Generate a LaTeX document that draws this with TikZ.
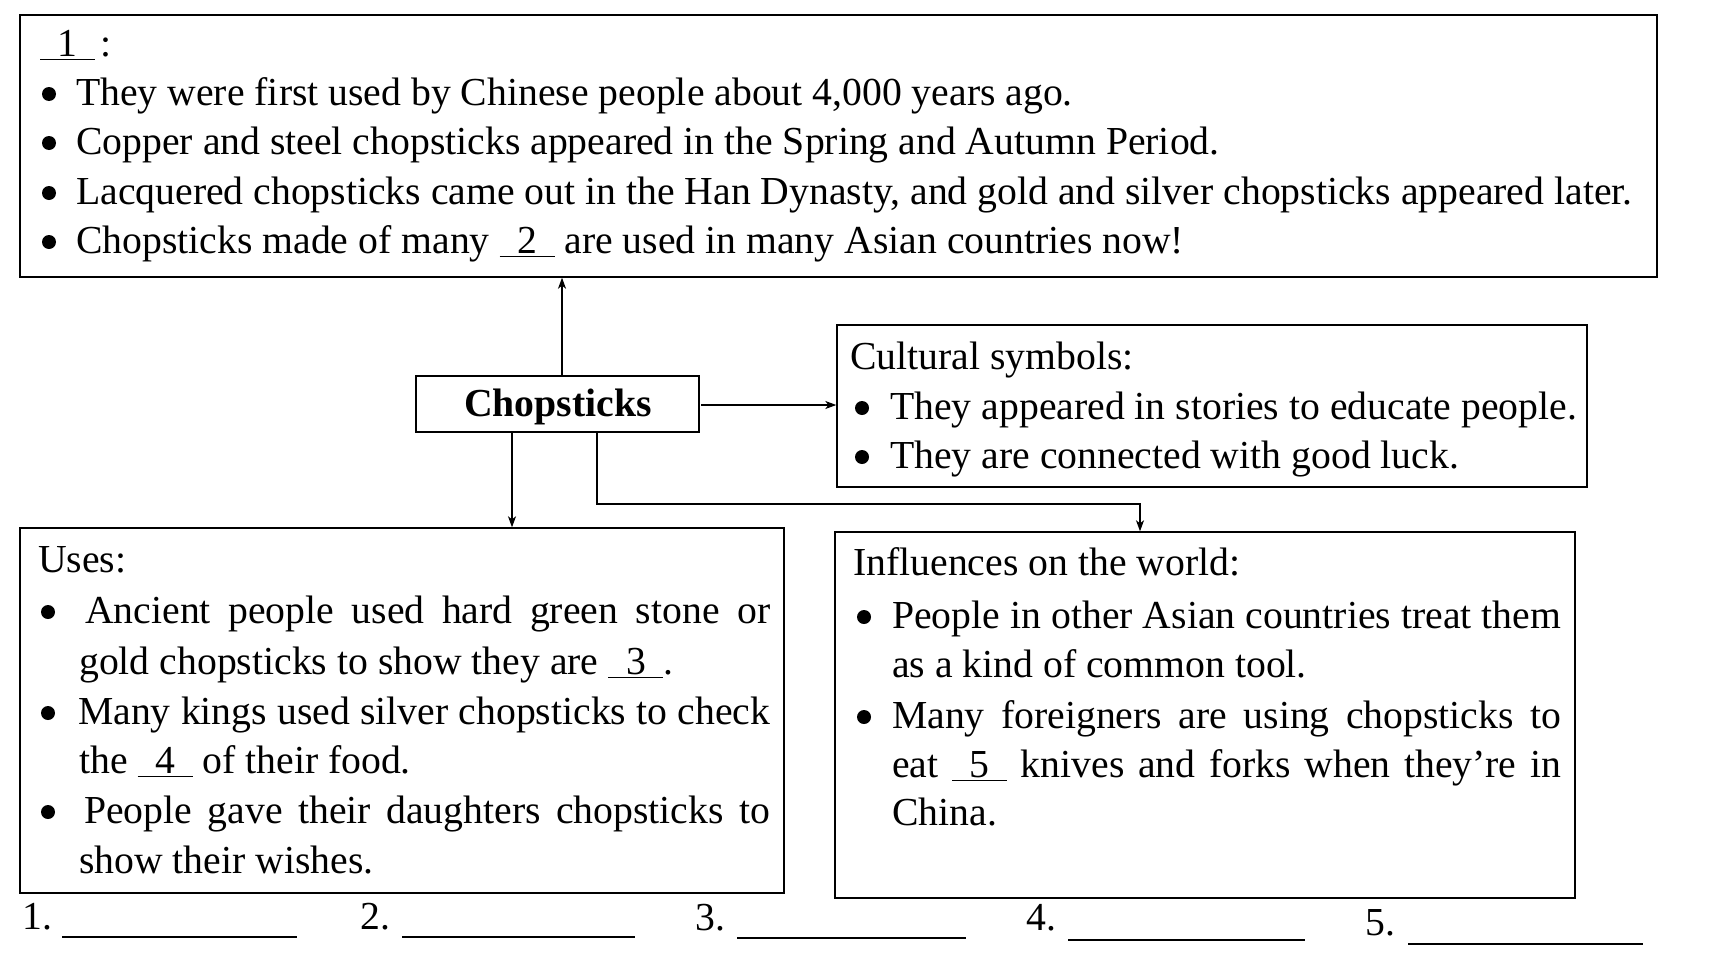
\documentclass[tikz,border=0pt]{standalone}
\usepackage{fontspec}
\setmainfont{Liberation Serif}
\usetikzlibrary{arrows.meta}
\newcommand{\blank}[1]{\rlap{\rule[-4pt]{55pt}{1.3pt}}\makebox[55pt]{#1}}
\newcommand{\jline}[2]{\makebox[#1][s]{#2}}
\begin{document}
\begin{tikzpicture}[x=1pt,y=-1pt,
  box/.style={draw, line width=1.4pt, inner sep=0pt},
  txt/.style={anchor=base west, inner sep=0pt, font=\fontsize{39.7}{48}\selectfont},
  arr/.style={line width=1.3pt, -{Stealth[length=11pt,width=8pt,inset=3pt]}},
  bul/.style={fill=black}]
\useasboundingbox (0,0) rectangle (1712,969);
% boxes
\node[box, minimum width=1637pt, minimum height=262pt] (top) at (838.5,146) {};
\node[box, minimum width=283pt, minimum height=56pt] (chop) at (557.5,404) {};
\node[box, minimum width=750pt, minimum height=162pt] (cult) at (1212,406) {};
\node[box, minimum width=764pt, minimum height=365pt] (uses) at (402,710.5) {};
\node[box, minimum width=740pt, minimum height=366pt] (infl) at (1205,715) {};
\node[txt, anchor=center, font=\fontsize{39.7}{48}\selectfont\bfseries] (chopt) at (558,407) {Chopsticks};
% connectors
\coordinate (cu) at (562,376);
\draw[arr] (cu) -- (cu |- top.south);
\coordinate (cr) at (701,405);
\draw[arr] (cr) -- (cr -| cult.west);
\coordinate (cd) at (512,432);
\draw[arr] (cd) -- (cd |- uses.north);
\coordinate (ce) at (597,432);
\coordinate (ct) at (1140,504);
\draw[arr] (ce) |- (ct) -- (ct |- infl.north);
% top box text
\node[txt] (t0) at (40,56) {\blank{1}\hspace{5pt}:};
\fill[bul] (49,94) circle (7);
\node[txt] (t1) at (76,105) {They were first used by Chinese people about 4,000 years ago.};
\fill[bul] (49,143) circle (7);
\node[txt] (t2) at (76,154) {Copper and steel chopsticks appeared in the Spring and Autumn Period.};
\fill[bul] (49,193) circle (7);
\node[txt] (t3) at (76,204) {Lacquered chopsticks came out in the Han Dynasty, and gold and silver chopsticks appeared later.};
\fill[bul] (49,242) circle (7);
\node[txt] (t4) at (76,253) {Chopsticks made of many \blank{2} are used in many Asian countries now!};
% cultural
\node[txt] (c0) at (850,369) {Cultural symbols:};
\fill[bul] (862,408) circle (7);
\node[txt] (c1) at (890,419) {They appeared in stories to educate people.};
\fill[bul] (862,457) circle (7);
\node[txt] (c2) at (890,468) {They are connected with good luck.};
% uses
\node[txt] (u0) at (38,572) {Uses:};
\fill[bul] (48,612) circle (7);
\node[txt] (u1) at (85,623) {\jline{685pt}{Ancient people used hard green stone or}};
\node[txt] (u2) at (79,674) {gold chopsticks to show they are \blank{3}.};
\fill[bul] (48,713) circle (7);
\node[txt] (u3) at (78,724) {\jline{692pt}{Many kings used silver chopsticks to check}};
\node[txt] (u4) at (79,773) {the \blank{4} of their food.};
\fill[bul] (48,812) circle (7);
\node[txt] (u5) at (84,823) {\jline{686pt}{People gave their daughters chopsticks to}};
\node[txt] (u6) at (79,873) {show their wishes.};
% influences
\node[txt] (i0) at (853,575) {Influences on the world:};
\fill[bul] (864,617) circle (7);
\node[txt] (i1) at (892,628) {\jline{669pt}{People in other Asian countries treat them}};
\node[txt] (i2) at (892,677) {as a kind of common tool.};
\fill[bul] (864,717) circle (7);
\node[txt] (i3) at (892,728) {\jline{669pt}{Many foreigners are using chopsticks to}};
\node[txt] (i4) at (892,777) {\jline{669pt}{eat \blank{5} knives and forks when they’re in}};
\node[txt] (i5) at (892,825) {China.};
% answer row
\node[txt] (a1) at (22,929) {1.};
\draw[line width=1.3pt] (62,937) -- (297,937);
\node[txt] (a2) at (360,929) {2.};
\draw[line width=1.3pt] (402,937) -- (635,937);
\node[txt] (a3) at (695,930) {3.};
\draw[line width=1.3pt] (737,938) -- (966,938);
\node[txt] (a4) at (1026,930) {4.};
\draw[line width=1.3pt] (1068,940) -- (1305,940);
\node[txt] (a5) at (1365,935) {5.};
\draw[line width=1.3pt] (1408,944) -- (1643,944);
\end{tikzpicture}
\end{document}
